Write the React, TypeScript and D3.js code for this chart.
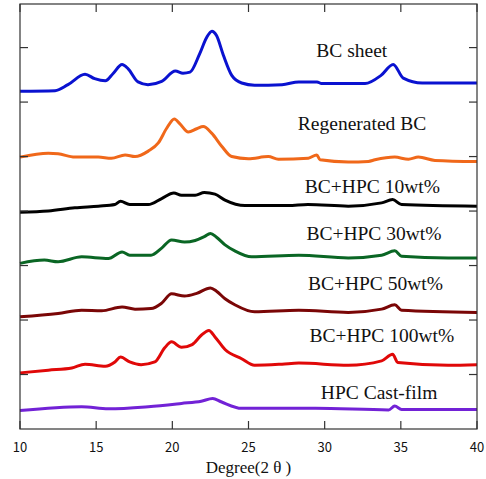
import React from 'react';
import { scaleLinear, line, curveMonotoneX } from 'd3';

// 2θ (deg), intensity (a.u., stacked)
const bcSheet: [number, number][] = [
  [10, 6.2], [12.3, 6.21], [13.15, 6.32], [14.27, 6.51], [14.9, 6.43], [15.6, 6.39],
  [16.1, 6.52], [16.7, 6.69], [17.1, 6.61], [17.75, 6.37], [18.4, 6.32], [19.3, 6.38],
  [20.2, 6.57], [20.7, 6.53], [21.16, 6.55], [21.8, 6.89], [22.26, 7.19], [22.6, 7.3],
  [22.9, 7.22], [23.35, 6.86], [23.9, 6.49], [24.55, 6.35], [25.4, 6.31], [27.2, 6.32],
  [28.3, 6.37], [29.5, 6.37], [29.8, 6.34], [32.65, 6.34], [33.7, 6.49], [34.5, 6.69],
  [35.16, 6.44], [36.4, 6.35], [40, 6.35],
];
const regeneratedBC: [number, number][] = [
  [10, 4.99], [11.86, 5.06], [12.5, 5.05], [13.6, 4.99], [15.14, 4.99], [16, 4.97],
  [16.9, 5.03], [17.55, 5.0], [18.42, 5.1], [19.08, 5.25], [19.63, 5.52], [20.13, 5.69],
  [20.5, 5.6], [21.05, 5.45], [21.6, 5.51], [22.03, 5.55], [22.58, 5.43], [23.24, 5.19],
  [23.9, 5.0], [24.99, 4.96], [26.3, 5.0], [26.96, 4.95], [28.93, 4.97], [29.48, 5.03],
  [29.7, 4.94], [31.55, 4.9], [32.87, 4.91], [33.3, 4.94], [34.6, 4.99], [35.5, 4.95],
  [36.15, 4.99], [37.24, 4.93], [40, 4.91],
];
const hpc10: [number, number][] = [
  [10, 3.98], [11.86, 4.0], [13.6, 4.06], [15.14, 4.09], [16.23, 4.12], [16.6, 4.18],
  [17.2, 4.12], [18.42, 4.12], [19.3, 4.23], [20.1, 4.33], [20.6, 4.29], [21.5, 4.29],
  [22.1, 4.34], [22.8, 4.31], [23.46, 4.2], [24.77, 4.1], [27.6, 4.1], [28.9, 4.12],
  [31.55, 4.09], [33.74, 4.15], [34.46, 4.21], [35.05, 4.12], [40, 4.09],
];
const hpc30: [number, number][] = [
  [10, 3.04], [11.6, 3.1], [12.5, 3.07], [14.05, 3.16], [15.8, 3.13], [16.7, 3.25],
  [17.2, 3.19], [18.6, 3.19], [19.3, 3.32], [19.95, 3.47], [20.8, 3.43], [21.5, 3.46],
  [22.1, 3.53], [22.5, 3.59], [22.9, 3.52], [23.46, 3.38], [24.1, 3.27], [25.2, 3.16],
  [28.3, 3.19], [31.55, 3.14], [33.74, 3.19], [34.6, 3.27], [35.05, 3.17], [38.1, 3.14],
  [40, 3.14],
];
const hpc50: [number, number][] = [
  [10, 2.06], [12.5, 2.12], [14.05, 2.18], [15.36, 2.17], [16.7, 2.24], [17.55, 2.2],
  [18.6, 2.21], [19.3, 2.31], [19.95, 2.48], [20.8, 2.44], [21.6, 2.49], [22.5, 2.59],
  [22.9, 2.53], [23.46, 2.39], [24.1, 2.28], [25.4, 2.15], [28.3, 2.18], [31.55, 2.14],
  [33.74, 2.2], [34.6, 2.28], [35.05, 2.18], [40, 2.14],
];
const hpc100: [number, number][] = [
  [10, 1.03], [11.86, 1.08], [13.4, 1.12], [14.27, 1.19], [15.6, 1.15], [16.23, 1.23],
  [16.6, 1.32], [17.2, 1.23], [17.95, 1.18], [18.85, 1.23], [19.5, 1.49], [19.95, 1.6],
  [20.6, 1.5], [21.3, 1.55], [21.9, 1.72], [22.4, 1.81], [22.8, 1.69], [23.46, 1.46],
  [24.55, 1.29], [25.4, 1.17], [27.2, 1.19], [28.3, 1.21], [31.55, 1.17], [33.74, 1.25],
  [34.46, 1.37], [34.8, 1.22], [38.1, 1.17], [40, 1.18],
];
const hpcCast: [number, number][] = [
  [10, 0.34], [14.05, 0.41], [15.8, 0.37], [18.42, 0.41], [20.6, 0.47], [21.9, 0.51],
  [22.65, 0.56], [23.2, 0.5], [24.55, 0.38], [29.4, 0.38], [34.2, 0.35], [34.6, 0.42],
  [35.05, 0.36], [40, 0.36],
];

const seriesNames = ['BC sheet', 'Regenerated BC', 'BC+HPC 10wt%', 'BC+HPC 30wt%', 'BC+HPC 50wt%', 'BC+HPC 100wt%', 'HPC Cast-film'];
const seriesData = [bcSheet, regeneratedBC, hpc10, hpc30, hpc50, hpc100, hpcCast];
const seriesColors = ['#0a12d0', '#f0681a', '#000000', '#0a6624', '#7a0606', '#e00808', '#7222d6'];
// label anchor: [2θ, intensity]
const labelPos: [number, number][] = [
  [29.45, 6.82], [28.24, 5.49], [28.7, 4.33], [28.8, 3.46], [28.9, 2.55], [29.0, 1.6], [29.75, 0.55],
];

const xTicks = [10, 15, 20, 25, 30, 35, 40];
const yTicks = [1, 2, 3, 4, 5, 6, 7];

const W = 486;
const H = 479;
const m = { left: 20, right: 9, top: 4, bottom: 50 };

export default function App() {
  const x = scaleLinear().domain([10, 40]).range([m.left, W - m.right]);
  const y = scaleLinear().domain([0, 7.8]).range([H - m.bottom, m.top]);
  const path = line<[number, number]>()
    .x(d => x(d[0]))
    .y(d => y(d[1]))
    .curve(curveMonotoneX);
  const x0 = x.range()[0], x1 = x.range()[1];
  const y0 = y.range()[0], y1 = y.range()[1];
  const tl = 8;

  return (
    <div style={{ position: 'absolute', left: 0, top: 0 }}>
      <svg width={W} height={H} style={{ display: 'block', background: '#fff' }}>
        {seriesData.map((d, i) => (
          <path key={i} d={path(d) || ''} fill="none" stroke={seriesColors[i]} strokeWidth={3} strokeLinejoin="round" />
        ))}
        <rect x={x0} y={y1} width={x1 - x0} height={y0 - y1} fill="none" stroke="#333" strokeWidth={1.2} />
        {xTicks.map(t => (
          <g key={'x' + t}>
            <line x1={x(t)} x2={x(t)} y1={y0} y2={y0 - tl} stroke="#333" strokeWidth={1.2} />
            <line x1={x(t)} x2={x(t)} y1={y1} y2={y1 + tl} stroke="#333" strokeWidth={1.2} />
            <text x={x(t)} y={y0 + 23} textAnchor="middle" fontFamily="'Noto Sans CJK JP', 'Noto Sans', sans-serif" fontSize={13} fill="#111">{t}</text>
          </g>
        ))}
        {yTicks.map(t => (
          <g key={'y' + t}>
            <line x1={x0} x2={x0 + tl} y1={y(t)} y2={y(t)} stroke="#333" strokeWidth={1.2} />
            <line x1={x1} x2={x1 - tl} y1={y(t)} y2={y(t)} stroke="#333" strokeWidth={1.2} />
          </g>
        ))}
        {seriesNames.map((n, i) => (
          <text key={n} x={x(labelPos[i][0])} y={y(labelPos[i][1])} fontFamily="'Liberation Serif', 'Times New Roman', serif" fontSize={19.5} fill="#111">{n}</text>
        ))}
        <text x={(x0 + x1) / 2} y={473} textAnchor="middle" fontFamily="'Liberation Serif', 'Times New Roman', serif" fontSize={17} fill="#111">Degree(2 θ )</text>
      </svg>
    </div>
  );
}
